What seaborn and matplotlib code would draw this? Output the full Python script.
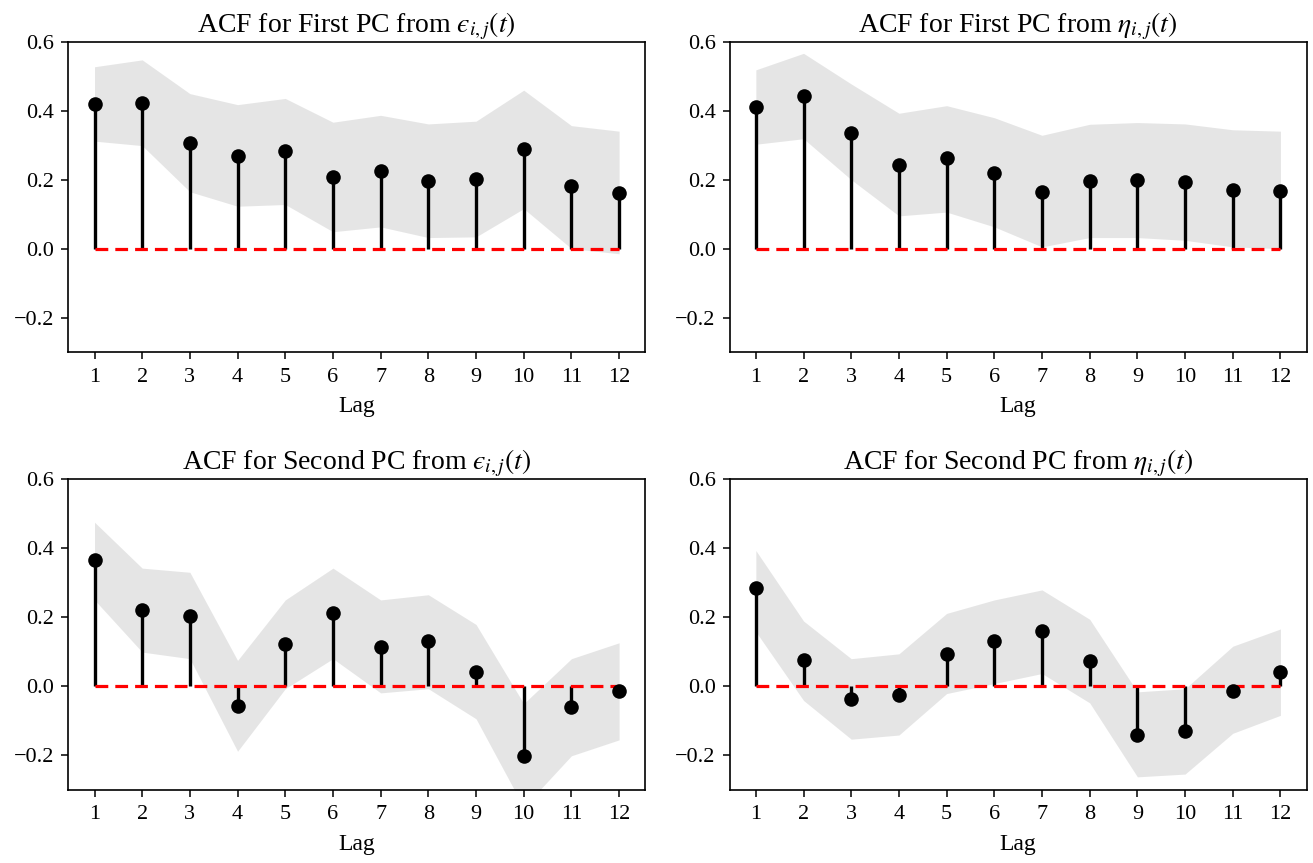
import numpy as np
import pandas as pd
import matplotlib
matplotlib.use("Agg")
import matplotlib.pyplot as plt
import seaborn as sns

lags = list(range(1, 13))

# Panel titles
titles = [
    "ACF for First PC from $\u03f5_{i,j}(t)$",
    "ACF for First PC from $\\eta_{i,j}(t)$",
    "ACF for Second PC from $\u03f5_{i,j}(t)$",
    "ACF for Second PC from $\\eta_{i,j}(t)$",
]

# ACF values
acf_pc1_eps = [0.421, 0.424, 0.309, 0.271, 0.283, 0.209, 0.227, 0.197, 0.203, 0.290, 0.182, 0.163]
acf_pc1_eta = [0.413, 0.445, 0.336, 0.244, 0.263, 0.220, 0.166, 0.198, 0.201, 0.194, 0.172, 0.168]
acf_pc2_eps = [0.365, 0.221, 0.204, -0.058, 0.121, 0.211, 0.115, 0.130, 0.042, -0.201, -0.061, -0.015]
acf_pc2_eta = [0.284, 0.075, -0.037, -0.024, 0.094, 0.131, 0.159, 0.074, -0.141, -0.130, -0.013, 0.041]

# Band upper limits
upper_pc1_eps = [0.529, 0.549, 0.451, 0.419, 0.437, 0.368, 0.388, 0.363, 0.371, 0.461, 0.358, 0.342]
upper_pc1_eta = [0.520, 0.568, 0.479, 0.394, 0.416, 0.381, 0.330, 0.362, 0.367, 0.363, 0.346, 0.342]
upper_pc2_eps = [0.475, 0.342, 0.330, 0.075, 0.250, 0.342, 0.250, 0.265, 0.179, -0.050, 0.080, 0.126]
upper_pc2_eta = [0.393, 0.189, 0.080, 0.094, 0.211, 0.250, 0.279, 0.194, -0.016, -0.007, 0.116, 0.166]

# Band lower limits
lower_pc1_eps = [0.313, 0.300, 0.166, 0.124, 0.129, 0.050, 0.064, 0.033, 0.035, 0.117, 0.001, -0.014]
lower_pc1_eta = [0.304, 0.320, 0.201, 0.096, 0.107, 0.064, 0.006, 0.033, 0.033, 0.025, 0.006, 0.001]
lower_pc2_eps = [0.250, 0.099, 0.080, -0.188, -0.007, 0.080, -0.019, -0.007, -0.094, -0.350, -0.201, -0.155]
lower_pc2_eta = [0.158, -0.041, -0.153, -0.141, -0.021, 0.008, 0.037, -0.048, -0.262, -0.254, -0.136, -0.084]

yticks = [-0.2, 0.0, 0.2, 0.4, 0.6]

sns.set_theme(style="ticks")
plt.rcParams.update({
    "font.family": ["Liberation Serif", "DejaVu Serif"],
    "mathtext.fontset": "stix",
    "axes.edgecolor": "black",
    "axes.linewidth": 1.2,
    "xtick.color": "black",
    "ytick.color": "black",
    "xtick.major.width": 1.1,
    "ytick.major.width": 1.1,
    "xtick.major.size": 5,
    "ytick.major.size": 5,
    "xtick.major.pad": 6,
    "ytick.major.pad": 5,
    "text.color": "black",
    "axes.labelcolor": "black",
})

fig = plt.figure(figsize=(13.13, 8.63), dpi=100)
positions = [
    [0.052, 0.5918, 0.4395, 0.3592],
    [0.5557, 0.5918, 0.4395, 0.3592],
    [0.052, 0.0846, 0.4395, 0.3604],
    [0.5557, 0.0846, 0.4395, 0.3604],
]
acfs = [acf_pc1_eps, acf_pc1_eta, acf_pc2_eps, acf_pc2_eta]
uppers = [upper_pc1_eps, upper_pc1_eta, upper_pc2_eps, upper_pc2_eta]
lowers = [lower_pc1_eps, lower_pc1_eta, lower_pc2_eps, lower_pc2_eta]

for pos, title, acf, up, lo in zip(positions, titles, acfs, uppers, lowers):
    ax = fig.add_axes(pos)
    df = pd.DataFrame({"Lag": lags, "ACF": acf})
    ax.fill_between(lags, lo, up, color="gray", alpha=0.2, linewidth=0)
    ax.vlines(df["Lag"], 0, df["ACF"], color="black", linewidth=2.4, zorder=3)
    ax.hlines(0, lags[0], lags[-1], color="red", linestyles=(0, (4, 2.2)), linewidth=2.3, zorder=4)
    sns.scatterplot(data=df, x="Lag", y="ACF", ax=ax, color="black", s=110,
                    edgecolor="black", linewidth=0, zorder=5)
    ax.set_ylim(-0.3, 0.6)
    ax.set_xlim(0.45, 12.55)
    ax.set_yticks(yticks)
    ax.set_yticklabels([f"{v:.1f}".replace("-", "\u2212") for v in yticks])
    ax.set_xticks(lags)
    ax.set_xticklabels([str(l) for l in lags])
    ax.tick_params(labelsize=16)
    ax.set_xlabel("Lag", fontsize=17, labelpad=7)
    ax.set_ylabel("")
    ax.set_title(title, fontsize=20, pad=6)

fig.savefig("out.png", dpi=100)
